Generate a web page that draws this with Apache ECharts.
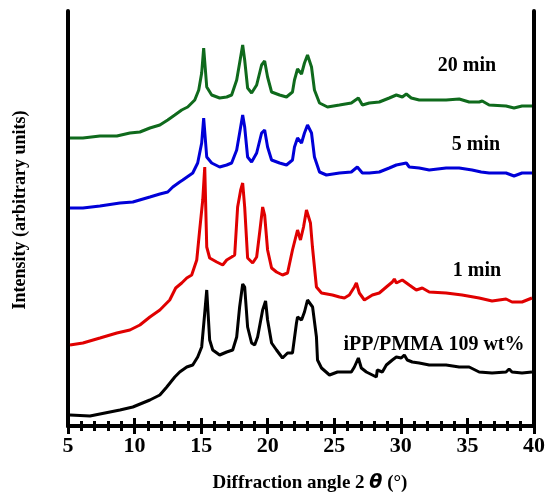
<!DOCTYPE html>
<html><head><meta charset="utf-8">
<script src="https://cdn.jsdelivr.net/npm/echarts@6/dist/echarts.min.js"></script>
<style>html,body{margin:0;padding:0;background:#fff}#c{width:548px;height:497px}</style>
</head><body><div id="c"></div>
<script>
// 2θ (deg) values and intensities (arbitrary units, stacked with offsets as in the figure)
const blackX = [5.15,6.65,8.90,9.87,11.15,11.90,12.42,13.02,13.39,13.92,14.37,14.74,15.04,15.27,15.42,15.64,15.87,16.39,16.92,17.37,17.67,17.89,18.12,18.27,18.49,18.79,19.02,19.24,19.62,19.84,19.99,20.29,20.66,21.11,21.49,21.86,22.16,22.24,22.54,22.76,22.99,23.14,23.37,23.66,23.74,24.04,24.64,25.24,26.28,26.51,26.81,27.03,27.41,28.16,28.23,28.61,28.91,29.36,29.66,30.03,30.26,30.48,30.86,31.38,32.13,33.40,34.38,35.13,35.88,36.85,37.90,38.13,38.35,39.10,39.85];
const blackY = [11,10,16,19,26,31,39,49,54,59,61,69,79,113,136,86,76,71,74,76,89,119,142,139,99,83,81,89,116,125,106,83,76,68,73,73,103,109,106,114,126,128,119,89,66,58,51,54,54,59,68,58,54,49,56,54,61,66,69,68,71,66,64,63,61,61,59,59,54,53,54,57,54,53,54];

const redX = [5.15,6.12,7.40,8.67,9.65,10.40,11.15,11.90,12.64,13.09,13.54,13.92,14.29,14.67,14.89,15.12,15.27,15.42,15.64,16.17,16.62,16.92,17.29,17.52,17.74,17.97,18.12,18.27,18.49,18.87,19.17,19.39,19.62,19.77,19.99,20.29,20.66,21.11,21.49,21.86,22.24,22.46,22.69,22.91,23.21,23.36,23.66,24.04,24.86,25.39,25.76,26.13,26.51,26.66,26.88,27.26,27.86,28.38,28.91,29.36,29.51,29.66,30.11,30.63,31.16,31.61,32.13,33.40,34.60,35.88,36.85,37.90,38.35,39.10,39.85];
const redY = [81,83,88,93,96,101,109,116,126,138,143,148,151,166,196,226,259,179,168,164,161,166,169,171,219,236,243,219,168,163,169,193,219,211,176,158,154,151,153,176,196,186,199,216,203,179,139,133,131,129,128,131,139,143,133,126,131,133,139,144,147,143,146,141,136,138,134,133,131,128,125,127,124,124,128];

const blueX = [5.15,6.12,7.40,8.90,9.87,11.15,11.90,12.49,12.87,13.39,13.62,14.37,14.74,15.04,15.19,15.42,15.79,16.39,16.92,17.29,17.67,17.89,18.12,18.27,18.49,18.79,19.17,19.54,19.77,19.99,20.29,20.89,21.41,21.86,22.01,22.24,22.54,22.76,22.99,23.29,23.51,23.89,24.41,25.39,26.28,26.73,27.11,27.63,28.38,29.13,29.66,30.41,30.63,31.38,32.13,33.40,34.38,35.35,36.03,36.63,37.90,38.50,39.10,39.85];
const blueY = [218,218,220,223,224,229,232,234,239,244,246,253,263,283,308,269,263,259,261,263,276,293,311,299,269,264,273,293,296,279,266,263,261,266,279,288,283,293,301,293,269,254,251,253,254,259,253,253,254,258,261,263,259,258,256,258,258,256,254,253,253,250,253,253];

const greenX = [5.15,6.12,7.40,8.67,9.65,10.40,11.15,11.90,12.49,13.02,13.54,13.99,14.52,14.82,15.04,15.19,15.42,15.79,16.39,16.92,17.29,17.67,17.89,18.12,18.27,18.49,18.79,19.17,19.54,19.77,19.99,20.29,20.89,21.41,21.86,22.01,22.24,22.54,22.76,22.99,23.29,23.51,23.89,24.49,25.39,26.28,26.81,27.11,27.63,28.38,29.13,29.66,30.11,30.41,30.78,31.38,32.13,33.40,34.38,35.13,35.88,36.11,36.63,37.90,38.50,39.10,39.85];
const greenY = [288,288,290,290,293,294,298,301,306,311,316,319,326,336,353,378,339,331,328,329,331,346,363,381,366,338,333,341,361,365,349,334,331,329,334,346,357,352,363,371,359,336,323,319,321,323,328,321,323,324,328,331,329,332,328,326,326,326,327,324,324,325,321,320,318,320,320];

const xTicks = [5,10,15,20,25,30,35,40];
const seriesLabels = ['20 min','5 min','1 min','iPP/PMMA 109 wt%'];

const zip = (xs, ys) => xs.map((x, i) => [x, ys[i]]);
const chart = echarts.init(document.getElementById('c'), null, {renderer: 'canvas'});
const FONT = '"Liberation Serif", "Times New Roman", serif';
const lineSeries = (name, xs, ys, color) => ({
  name, type: 'line', data: zip(xs, ys), showSymbol: false, symbol: 'none',
  lineStyle: {color, width: 3}, smooth: false, z: 3
});
const axisCommon = {
  type: 'value', min: 5, max: 40, interval: 5,
  axisLine: {show: true, lineStyle: {color: '#000', width: 4}},
  axisTick: {show: true, inside: true, length: 8, lineStyle: {color: '#000', width: 3}},
  minorTick: {show: true, splitNumber: 5, length: 5, lineStyle: {color: '#000', width: 3}},
  splitLine: {show: false}
};
const txt = (text, x, y, size) => ({
  type: 'text', x, y,
  style: {text, font: 'bold ' + size + 'px ' + FONT, fill: '#000', textAlign: 'center', textVerticalAlign: 'middle'}
});
chart.setOption({
  animation: false,
  backgroundColor: '#fff',
  grid: {left: 68, right: 13, top: 11, bottom: 71, containLabel: false},
  xAxis: [
    Object.assign({}, axisCommon, {
      position: 'bottom',
      axisLabel: {show: true, margin: 9, color: '#000', fontFamily: FONT, fontWeight: 'bold', fontSize: 22,
        formatter: v => xTicks.includes(v) ? String(v) : ''}
    }),
    Object.assign({}, axisCommon, {position: 'top', axisLabel: {show: false}})
  ],
  yAxis: [
    {type: 'value', min: 0, max: 415, position: 'left',
     axisLine: {show: true, lineStyle: {color: '#000', width: 4}},
     axisTick: {show: false}, axisLabel: {show: false}, splitLine: {show: false}},
    {type: 'value', min: 0, max: 415, position: 'right',
     axisLine: {show: true, lineStyle: {color: '#000', width: 4}},
     axisTick: {show: false}, axisLabel: {show: false}, splitLine: {show: false}}
  ],
  series: [
    lineSeries('black', blackX, blackY, '#000000'),
    lineSeries('red', redX, redY, '#e00000'),
    lineSeries('blue', blueX, blueY, '#0000d8'),
    lineSeries('green', greenX, greenY, '#0f6a1c')
  ],
  graphic: [
    {type: 'text', x: 20, y: 210, rotation: Math.PI / 2,
     style: {text: 'Intensity (arbitrary units)', font: 'bold 18px ' + FONT, fill: '#000',
       textAlign: 'center', textVerticalAlign: 'middle'}},
    {type: 'text', x: 310, y: 483,
     style: {
       text: '{a|Diffraction angle 2 }{t|θ}{a| (°)}',
       textAlign: 'center', textVerticalAlign: 'middle',
       rich: {
         a: {font: 'bold 19px ' + FONT, fill: '#000'},
         t: {font: 'italic bold 19px "DejaVu Sans", sans-serif', fill: '#000'}
       }
     }},
    txt(seriesLabels[0], 467, 66, 20),
    txt(seriesLabels[1], 476, 145, 20),
    txt(seriesLabels[2], 477, 271, 20),
    txt(seriesLabels[3], 434, 345, 20)
  ]
});
</script></body></html>
